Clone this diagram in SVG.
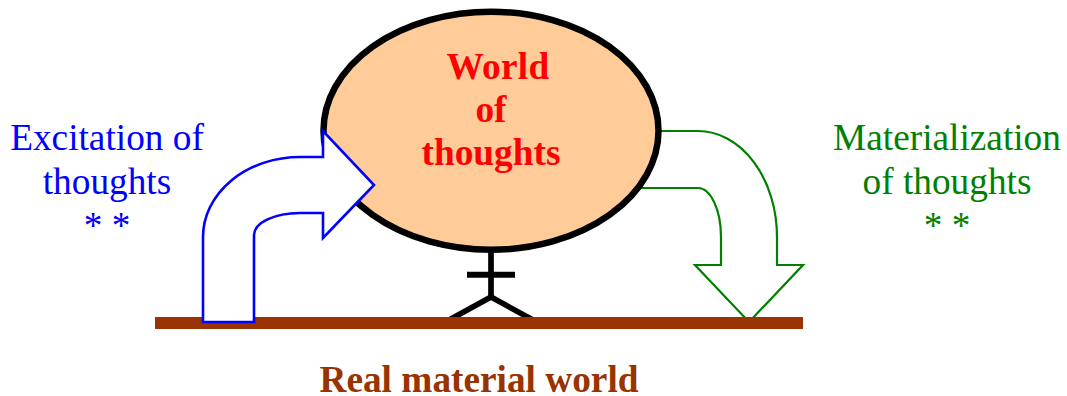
<svg xmlns="http://www.w3.org/2000/svg" width="1067" height="396" viewBox="0 0 1067 396">
<style>
text{font-family:"Liberation Serif","Times New Roman",serif;text-anchor:middle}
.b{fill:#0000ff;font-size:37.300px}
.g{fill:#008000;font-size:37.300px}
.r{fill:#ff0000;font-size:37.300px;font-weight:bold}
.m{fill:#993300;font-size:37.300px;font-weight:bold}
.k{stroke:#000;fill:none}
</style>
<rect width="1067" height="396" fill="#fff"/>
<g id="connectors">
<path id="materialization-arrow" d="M630 188H698A23 49 0 0 1 721 237V265H695L749 322L803 265H777V237A79 106 0 0 0 698 131H630Z" fill="#fff" stroke="#008000" stroke-width="2.200"/>
<g id="stem">
<path class="k" stroke-width="5.700" d="M491 250V298"/>
<path class="k" stroke-width="6" d="M467 274.700H515"/>
<path class="k" stroke-width="5.500" d="M449 320L491 297L533 320"/>
</g>
</g>
<g id="world-of-thoughts">
<ellipse cx="491" cy="130.750" rx="167.500" ry="119" fill="#ffcc99" stroke="#000" stroke-width="6.500"/>
<text class="r" x="498" y="79" letter-spacing=".3">World</text>
<text class="r" x="491" y="122">of</text>
<text class="r" x="491" y="165">thoughts</text>
</g>
<g id="real-material-world">
<rect x="155" y="317" width="648" height="12" fill="#993300"/>
<text class="m" x="479" y="392">Real material world</text>
</g>
<g id="excitation-arrow">
<path d="M203 322V237A97 80 0 0 1 300 157H323V131L374 185L323 238V213H300A46 22 0 0 0 254 235V322Z" fill="#fff" stroke="#0000ff" stroke-width="2.600"/>
</g>
<g id="excitation-label">
<text class="b" x="107" y="150">Excitation of</text>
<text class="b" x="107" y="194">thoughts</text>
<text class="b" x="107" y="238">* *</text>
</g>
<g id="materialization-label">
<text class="g" x="947" y="150">Materialization</text>
<text class="g" x="947" y="194">of thoughts</text>
<text class="g" x="947" y="238">* *</text>
</g>
</svg>
